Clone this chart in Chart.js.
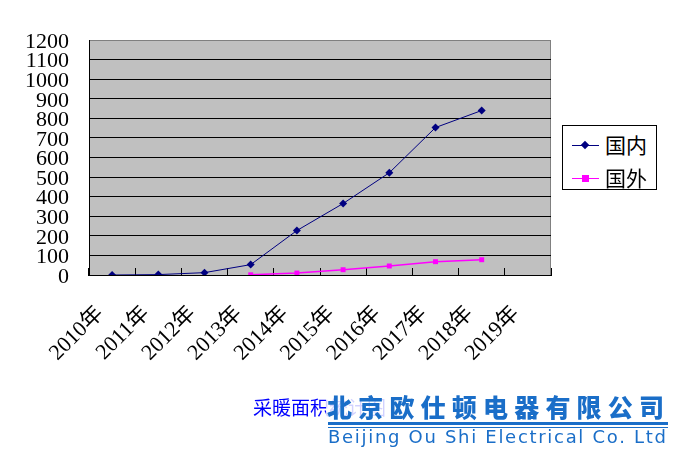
<!DOCTYPE html>
<html>
<head>
<meta charset="utf-8">
<script src="https://cdn.jsdelivr.net/npm/chart.js@4/dist/chart.umd.min.js"></script>
<style>
  body { margin: 0; background: #fff; }
  #wrap { position: relative; width: 680px; height: 450px; }
  #legend_box {
    position: absolute; left: 562px; top: 125px; width: 93px; height: 63px;
    border: 1px solid #000; background: #fff;
    font-family: "Noto Sans CJK SC", sans-serif; font-size: 21px;
  }
  .legend_row { position: absolute; left: 0; height: 30px; width: 93px; }
  .legend_line { position: absolute; left: 9px; top: 14px; width: 27px; height: 1px; }
  .legend_mark { position: absolute; }
  .legend_text { position: absolute; left: 42px; top: -2px; line-height: 30px; }
  #caption {
    position: absolute; left: 253px; top: 393px; color: #0000ff;
    font-family: "Noto Sans CJK SC", sans-serif; font-size: 19px; white-space: nowrap;
  }
  #logo {
    position: absolute; left: 326px; top: 390px; width: 346px; height: 58px;
    background: rgba(255,255,255,0.82); color: #1a6ec8;
  }
  #logo_cn {
    position: absolute; left: 1px; top: -2px; white-space: nowrap;
    font-family: "Noto Sans CJK SC", sans-serif; font-weight: 900;
    font-size: 25px; letter-spacing: 6.2px;
  }
  #logo_line1 { position: absolute; left: 2px; top: 32px; width: 340px; height: 3px; background: #1a6ec8; }
  #logo_line2 { position: absolute; left: 2px; top: 37px; width: 340px; height: 1px; background: #1a6ec8; }
  #logo_en {
    position: absolute; left: 2px; top: 36px; white-space: nowrap;
    font-family: "DejaVu Sans", sans-serif; font-size: 18px; letter-spacing: 1.7px;
  }
</style>
</head>
<body>
<div id="wrap">
  <canvas id="lineChart" width="680" height="450"></canvas>
  <div id="legend_box"></div>
  <div id="caption"></div>
  <div id="logo">
    <div id="logo_cn"></div>
    <div id="logo_line1"></div>
    <div id="logo_line2"></div>
    <div id="logo_en"></div>
  </div>
</div>
<script>
"use strict";
const years = ["2010年", "2011年", "2012年", "2013年", "2014年", "2015年", "2016年", "2017年", "2018年", "2019年"];
const seriesNames = ["国内", "国外"];
const domesticArr = [0, 2, 12, 53, 227, 365, 522, 753, 840, null];
const foreignArr = [null, null, null, 1, 10, 27, 46, 68, 78, null];
const yTicks = [0, 100, 200, 300, 400, 500, 600, 700, 800, 900, 1000, 1100, 1200];
const captionText = "采暖面积统计图";
const logoCn = "北京欧仕顿电器有限公司";
const logoEn = "Beijing Ou Shi Electrical Co. Ltd";

const seriesColors = ["#000080", "#ff00ff"];

const plotBackground = {
  id: "plotBackground",
  beforeDraw(chart) {
    const { ctx, chartArea } = chart;
    ctx.save();
    ctx.fillStyle = "#c0c0c0";
    ctx.fillRect(chartArea.left, chartArea.top, chartArea.right - chartArea.left, chartArea.bottom - chartArea.top);
    ctx.strokeStyle = "#808080";
    ctx.lineWidth = 1;
    ctx.beginPath();
    ctx.moveTo(chartArea.right - 0.5, chartArea.top);
    ctx.lineTo(chartArea.right - 0.5, chartArea.bottom);
    ctx.stroke();
    ctx.restore();
  },
};

setChart();

function setChart() {
  const ctx = document.getElementById("lineChart");
  new Chart(ctx, {
    type: "line",
    data: {
      labels: years,
      datasets: [
        {
          label: seriesNames[0],
          data: domesticArr,
          borderColor: seriesColors[0],
          backgroundColor: seriesColors[0],
          borderWidth: 1,
          pointStyle: "rectRot",
          pointRadius: 4,
          pointBorderWidth: 0,
          spanGaps: false,
        },
        {
          label: seriesNames[1],
          data: foreignArr,
          borderColor: seriesColors[1],
          backgroundColor: seriesColors[1],
          borderWidth: 1.5,
          pointStyle: "rect",
          pointRadius: 3.5,
          pointBorderWidth: 0,
          spanGaps: false,
        },
      ],
    },
    options: {
      responsive: false,
      animation: false,
      layout: { padding: { top: 40, right: 129, left: 0, bottom: 0 } },
      plugins: { legend: { display: false }, tooltip: { enabled: false } },
      scales: {
        x: {
          offset: true,
          afterFit: (scale) => { scale.height = 175; },
          grid: {
            offset: true,
            drawOnChartArea: false,
            drawTicks: true,
            tickLength: -7,
            color: "#000",
          },
          border: { color: "#000", width: 1 },
          ticks: {
            autoSkip: false,
            minRotation: 45,
            maxRotation: 45,
            labelOffset: -12,
            padding: 33,
            color: "#000",
            font: { family: "'Liberation Serif', 'Noto Sans CJK SC'", size: 22 },
          },
        },
        y: {
          min: 0,
          max: 1200,
          afterFit: (scale) => { scale.width = 89; },
          afterBuildTicks: (scale) => { scale.ticks = yTicks.map((v) => ({ value: v })); },
          grid: {
            drawTicks: false,
            color: (c) => (c.tick && c.tick.value === 1200 ? "#808080" : "#000"),
          },
          border: { color: "#000", width: 1 },
          ticks: {
            autoSkip: false,
            padding: 20,
            labelOffset: 2,
            color: "#000",
            font: { family: "'Liberation Serif'", size: 22 },
            callback: (value) => String(value),
          },
        },
      },
    },
    plugins: [plotBackground],
  });
  setLegend();
  setTexts();
}

function setLegend() {
  const box = document.getElementById("legend_box");
  seriesNames.forEach((name, i) => {
    const row = document.createElement("div");
    row.className = "legend_row";
    row.style.top = 5 + i * 33 + "px";
    const line = document.createElement("div");
    line.className = "legend_line";
    line.style.background = seriesColors[i];
    const mark = document.createElement("div");
    mark.className = "legend_mark";
    mark.style.background = seriesColors[i];
    if (i === 0) {
      mark.style.cssText += "left:19px;top:11px;width:6px;height:6px;transform:rotate(45deg);";
    } else {
      mark.style.cssText += "left:19px;top:11px;width:7px;height:7px;";
    }
    const text = document.createElement("div");
    text.className = "legend_text";
    text.textContent = name;
    row.appendChild(line);
    row.appendChild(mark);
    row.appendChild(text);
    box.appendChild(row);
  });
}

function setTexts() {
  document.getElementById("caption").textContent = captionText;
  document.getElementById("logo_cn").textContent = logoCn;
  document.getElementById("logo_en").textContent = logoEn;
}
</script>
</body>
</html>
